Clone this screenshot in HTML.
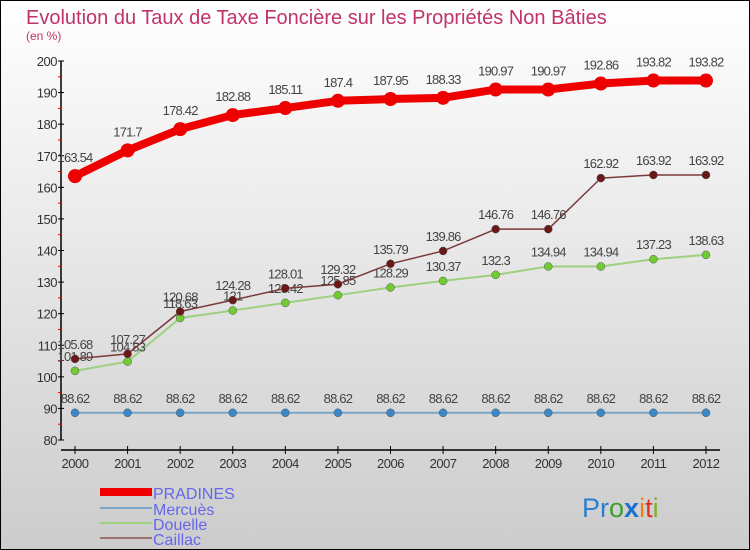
<!DOCTYPE html>
<html><head><meta charset="utf-8"><style>
body{margin:0}
svg{display:block;font-family:"Liberation Sans",sans-serif}
</style></head><body>
<svg id="c" width="750" height="550">
<defs><linearGradient id="bg" x1="0" y1="0" x2="0" y2="1"><stop offset="0" stop-color="#ffffff"/><stop offset="1" stop-color="#cccccc"/></linearGradient></defs>
<rect x="0.5" y="0.5" width="749" height="549" fill="url(#bg)" stroke="#000" stroke-width="1"/>
<text x="26" y="24" font-size="20" fill="#c0336a">Evolution du Taux de Taxe Foncière sur les Propriétés Non Bâties</text>
<text x="26" y="40" font-size="12" fill="#c0336a">(en %)</text>
<g id="axes"></g><g id="series"></g>
<g>
<rect x="100" y="488" width="52" height="8" fill="#ee0000"/>
<text x="153" y="499" font-size="16" fill="#6666ee">PRADINES</text>
<line x1="100" y1="508" x2="152" y2="508" stroke="#7aa6c8" stroke-width="2"/>
<text x="153" y="515" font-size="16" fill="#6666ee">Mercuès</text>
<line x1="100" y1="523" x2="152" y2="523" stroke="#9ed080" stroke-width="2"/>
<text x="153" y="530" font-size="16" fill="#6666ee">Douelle</text>
<line x1="100" y1="538" x2="152" y2="538" stroke="#9a7070" stroke-width="2"/>
<text x="153" y="545" font-size="16" fill="#6666ee">Caillac</text>
</g>
<g font-size="27" font-family="'Liberation Sans',sans-serif">
<text x="582" y="517"><tspan fill="#2a7fd0">P</tspan><tspan fill="#2a7fd0">r</tspan><tspan fill="#3aa030">o</tspan><tspan fill="#1a70d0" font-weight="bold">x</tspan><tspan fill="#f08010">i</tspan><tspan fill="#e03020">t</tspan><tspan fill="#80b020">i</tspan></text>
</g>
</svg>
<script>
const years=[2000,2001,2002,2003,2004,2005,2006,2007,2008,2009,2010,2011,2012];
const pradines=[163.54,171.7,178.42,182.88,185.11,187.4,187.95,188.33,190.97,190.97,192.86,193.82,193.82];
const mercues=[88.62,88.62,88.62,88.62,88.62,88.62,88.62,88.62,88.62,88.62,88.62,88.62,88.62];
const douelle=[101.89,104.83,118.63,121,123.42,125.85,128.29,130.37,132.3,134.94,134.94,137.23,138.63];
const caillac=[105.68,107.27,120.68,124.28,128.01,129.32,135.79,139.86,146.76,146.76,162.92,163.92,163.92];
const yTicks=[80,90,100,110,120,130,140,150,160,170,180,190,200];
const NS="http://www.w3.org/2000/svg";
const X=i=>75+i*(706-75)/(years.length-1);
const Y=v=>440-(v-80)*(440-61)/120;
function mk(p,t,a){const e=document.createElementNS(NS,t);for(const k in a)e.setAttribute(k,a[k]);p.appendChild(e);return e;}
const ax=document.getElementById('axes'),sr=document.getElementById('series');
let yl=mk(ax,'line',{x1:61,y1:61,x2:61,y2:440,stroke:'#000','stroke-width':1.5});


let xl=mk(ax,'line',{x1:61,y1:450,x2:720,y2:450,stroke:'#000','stroke-width':1.5});


yTicks.forEach(v=>{
 mk(ax,'line',{x1:58,y1:Y(v),x2:64,y2:Y(v),stroke:'#000'});
 if(v<200)mk(ax,'line',{x1:58,y1:Y(v+5),x2:61,y2:Y(v+5),stroke:'#e00'});
 const t=mk(ax,'text',{x:57,y:Y(v)+5,'font-size':13,'text-anchor':'end',fill:'#333','letter-spacing':'-0.5'});t.textContent=v;
 
 
});
years.forEach((y,i)=>{
 mk(ax,'line',{x1:X(i),y1:446,x2:X(i),y2:454,stroke:'#000'});
 const t=mk(ax,'text',{x:X(i),y:468,'font-size':13,'text-anchor':'middle',fill:'#333','letter-spacing':'-0.5'});t.textContent=y;
 
 
});
function series(name,vals,col,dot,lw,r,dy){
 const g=mk(sr,'g',{});
 
 
 const pl=mk(g,'polyline',{points:vals.map((v,i)=>X(i)+','+Y(v)).join(' '),fill:'none',stroke:col,'stroke-width':lw,'stroke-linejoin':'round'});
 
 
 vals.forEach((v,i)=>{
  const c=mk(g,'circle',{cx:X(i),cy:Y(v),r:r,fill:dot,stroke:r>5?'none':'#555','stroke-width':0.5});
  
  
  const t=mk(g,'text',{x:X(i),y:Y(v)-dy,'font-size':13,'text-anchor':'middle',fill:'#444','letter-spacing':'-0.8'});t.textContent=v;
  
  
 });
}
series('mercues',mercues,'#7aa6c8','#3a88c8',2,4,10);
series('douelle',douelle,'#9ed080','#70cc30',2,4,10);
series('caillac',caillac,'#7a3a3a','#6a1818',1.5,4,10);
series('pradines',pradines,'#ee0000','#ee0000',8,7,14);
</script>
</body></html>
